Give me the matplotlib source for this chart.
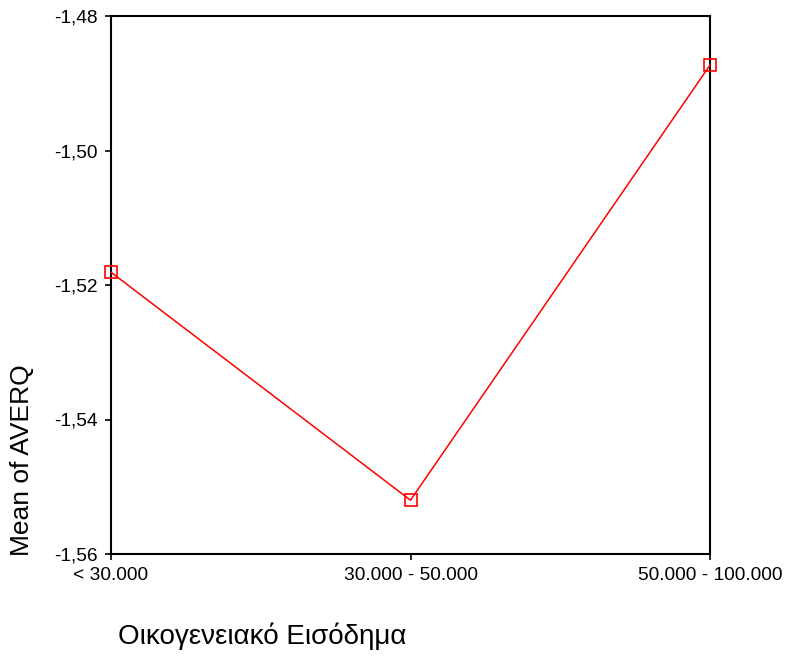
import matplotlib
matplotlib.use("Agg")
import matplotlib.pyplot as plt
from matplotlib.ticker import FuncFormatter

categories = ["< 30.000", "30.000 - 50.000", "50.000 - 100.000"]
means = [-1.5181, -1.5520, -1.4873]
yticks = [-1.56, -1.54, -1.52, -1.50, -1.48]

plt.rcParams['font.family'] = ['Liberation Sans', 'DejaVu Sans']

fig = plt.figure(figsize=(7.88, 6.57), dpi=100)
ax = fig.add_axes([111/788, 1-554/657, 599/788, 538/657])

x = list(range(len(categories)))
ax.plot(x, means, color='#ff0000', linewidth=1.1, marker='s', markersize=8.3,
        markerfacecolor='none', markeredgecolor='#ff0000', markeredgewidth=1.2,
        clip_on=False, zorder=5)

ax.set_xlim(0, len(categories)-1)
ax.set_ylim(-1.56, -1.48)
ax.set_xticks(x)
ax.set_xticklabels(categories)
ax.set_yticks(yticks)
ax.yaxis.set_major_formatter(FuncFormatter(lambda v, p: f"{v:.2f}".replace('.', ',')))
ax.tick_params(direction='out', length=4.5, width=1.2, labelsize=13.8, colors='black', pad=5)
for s in ax.spines.values():
    s.set_linewidth(1.5)

fig.text(118/788, 1-636/657, "Οικογενειακό Εισόδημα", fontsize=20, ha='left', va='center')
fig.text(22/788, 1-460/657, "Mean of AVERQ", fontsize=19, rotation=90, ha='center', va='center')

fig.savefig("out.png", dpi=100)
